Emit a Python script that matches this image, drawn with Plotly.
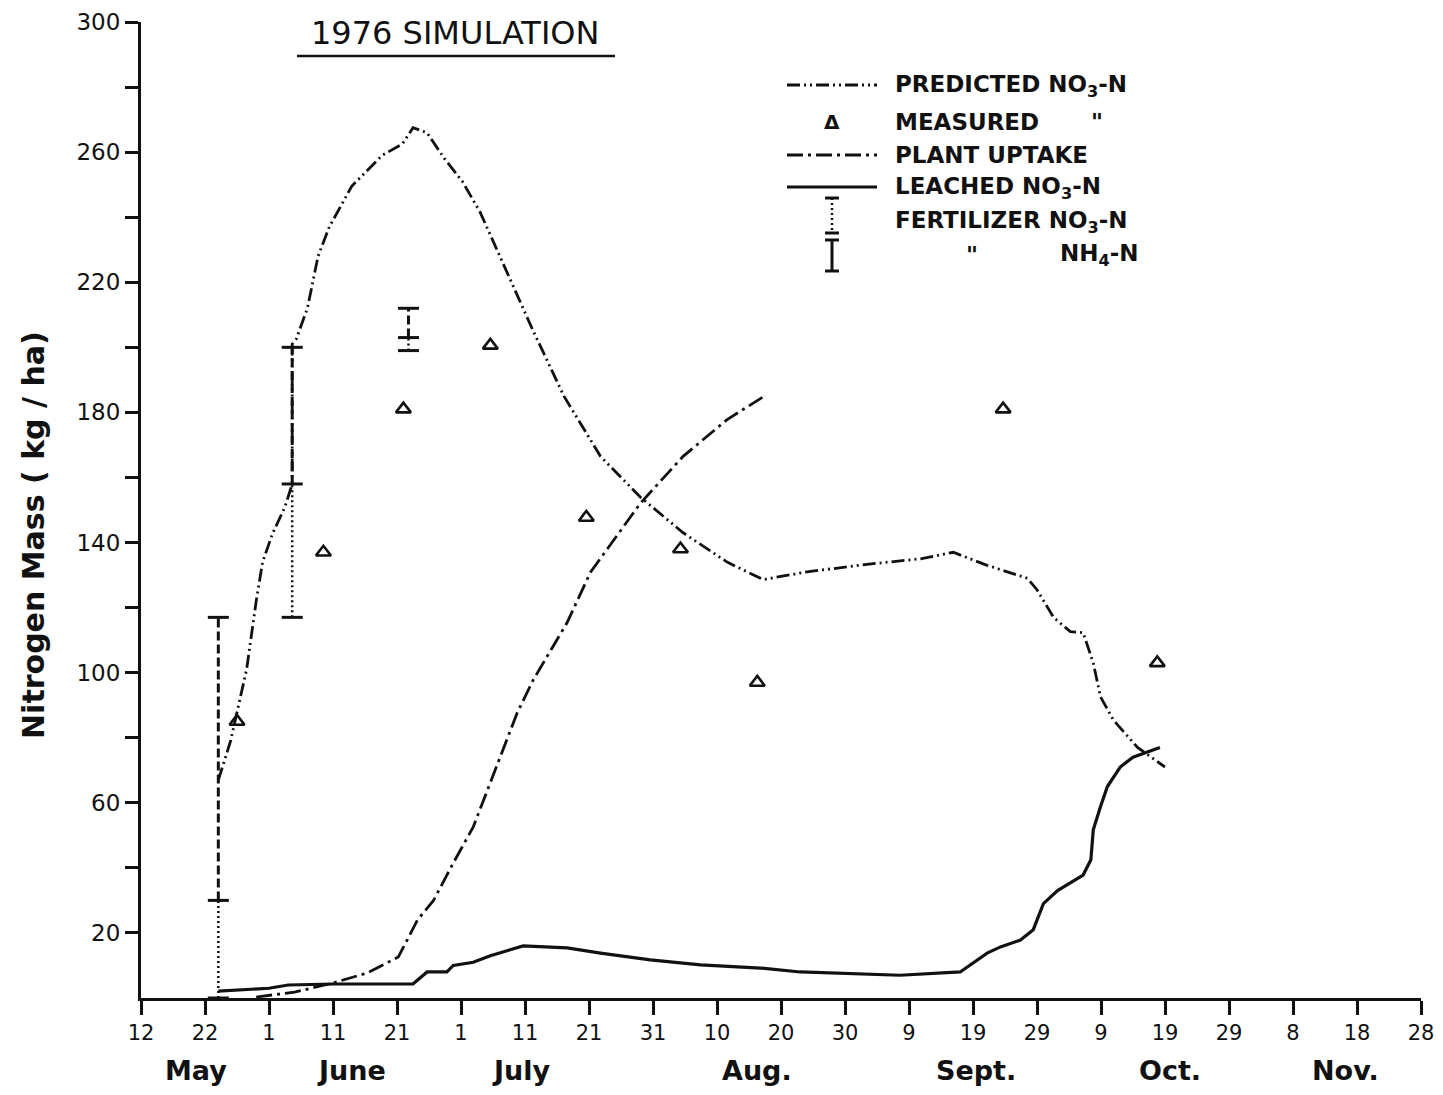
import plotly.graph_objects as go

# ---------------- data ----------------
pred_dates = ["1976-05-24 02:00", "1976-05-26", "1976-05-28 12:00", "1976-05-30", "1976-05-31",
              "1976-06-01 12:00", "1976-06-03 12:00", "1976-06-04 15:00", "1976-06-04 15:00",
              "1976-06-05 06:00", "1976-06-07", "1976-06-08 16:00", "1976-06-10 10:00",
              "1976-06-13 22:00", "1976-06-18 16:00", "1976-06-21 20:00", "1976-06-23 12:00",
              "1976-06-25 16:00", "1976-06-28 10:00", "1976-07-01 05:00", "1976-07-04",
              "1976-07-08 05:00", "1976-07-12 07:00", "1976-07-17 02:00", "1976-07-22 19:00",
              "1976-07-29", "1976-08-04 17:00", "1976-08-11 14:00", "1976-08-17 05:00",
              "1976-08-24 02:00", "1976-09-03 10:00", "1976-09-10 19:00", "1976-09-15 22:00",
              "1976-09-21 05:00", "1976-09-27 12:00", "1976-09-29", "1976-10-01 14:00",
              "1976-10-04 05:00", "1976-10-06 05:00", "1976-10-07 19:00", "1976-10-08 22:00",
              "1976-10-10 22:00", "1976-10-14 17:00", "1976-10-19"]
pred_vals = [67, 79, 101, 122, 134, 142.5, 151, 158, 201, 202.5,
             212, 228, 237, 249.5, 259, 262.5, 267.5, 266, 258, 251,
             241.5, 223, 205, 185, 166.5, 154, 143, 134, 128.6, 131,
             133.5, 135, 137, 133, 129, 125.5, 117, 112.6, 112.3, 103,
             92.6, 85.5, 77, 71]

uptake_dates = ["1976-05-30", "1976-06-05", "1976-06-11", "1976-06-16 08:00", "1976-06-21 05:00",
                "1976-06-24 05:00", "1976-06-26 17:00", "1976-06-29 19:00", "1976-07-02 22:00",
                "1976-07-05 14:00", "1976-07-09 19:00", "1976-07-12 07:00", "1976-07-17 14:00",
                "1976-07-21 05:00", "1976-07-29", "1976-08-04 17:00", "1976-08-11 14:00",
                "1976-08-17 02:00"]
uptake_vals = [0.3, 1.8, 4.6, 7.7, 12.6, 24, 30, 41.5, 52.6, 66, 87.7, 97.8, 115.4,
               130.8, 152, 166.5, 177.8, 184.6]

leach_dates = ["1976-05-24 02:00", "1976-06-01", "1976-06-04", "1976-06-11", "1976-06-23 12:00",
               "1976-06-25 17:00", "1976-06-28 19:00", "1976-06-29 19:00", "1976-07-02 22:00",
               "1976-07-05 14:00", "1976-07-10 17:00", "1976-07-17 14:00", "1976-07-22 19:00",
               "1976-07-30 14:00", "1976-08-07 10:00", "1976-08-16 19:00", "1976-08-23",
               "1976-09-07 14:00", "1976-09-17", "1976-09-21 05:00", "1976-09-23 07:00",
               "1976-09-26 10:00", "1976-09-28 10:00", "1976-09-30", "1976-10-02 05:00",
               "1976-10-06 05:00", "1976-10-07 10:00", "1976-10-07 19:00", "1976-10-08 22:00",
               "1976-10-10", "1976-10-12", "1976-10-14", "1976-10-18 05:00"]
leach_vals = [2.1, 3, 4, 4.3, 4.3, 8, 8, 10, 11, 13, 16, 15.4, 13.8, 11.7, 10.2,
              9.2, 8, 7, 8, 13.8, 15.7, 17.8, 21, 29, 33, 37.8, 42.5, 51.7, 58.8,
              65, 71, 74, 77]

meas_dates = ["1976-05-27", "1976-06-09 12:00", "1976-06-22", "1976-07-05 14:00",
              "1976-07-20 14:00", "1976-08-04 07:00", "1976-08-16 07:00",
              "1976-09-23 17:00", "1976-10-17 19:00"]
meas_vals = [85, 137, 181, 200.6, 147.7, 138, 97, 181, 103]

fert_dates = ["1976-05-24 02:00", "1976-06-04 15:00", "1976-06-22 19:00"]
fert_no3_low = [0, 117, 199]
fert_no3_high = [30, 158, 203]
fert_nh4_high = [117, 200, 212]

tick_dates = ["1976-05-12", "1976-05-22", "1976-06-01", "1976-06-11", "1976-06-21",
              "1976-07-01", "1976-07-11", "1976-07-21", "1976-07-31", "1976-08-10",
              "1976-08-20", "1976-08-30", "1976-09-09", "1976-09-19", "1976-09-29",
              "1976-10-09", "1976-10-19", "1976-10-29", "1976-11-08", "1976-11-18",
              "1976-11-28"]
tick_labels = ["12", "22", "1", "11", "21", "1", "11", "21", "31", "10", "20", "30",
               "9", "19", "29", "9", "19", "29", "8", "18", "28"]

month_names = ["May", "June", "July", "Aug.", "Sept.", "Oct.", "Nov."]
month_label_dates = ["1976-05-20 14:00", "1976-06-13 21:00", "1976-07-10 10:00",
                     "1976-08-16 07:00", "1976-09-19 10:00", "1976-10-19 19:00",
                     "1976-11-16 05:00"]

y_major = [20, 60, 100, 140, 180, 220, 260, 300]
y_minor = [40, 80, 120, 160, 200, 240, 280]

# ---------------- layout helpers ----------------
# the html page body has an 8px margin; screen coordinates below are for the 1443x1095 window
OFF = 8
W, H = 1443 - 2 * OFF, 1095 - 2 * OFF
SL, SR, ST, SB = 141, 1421, 22, 998          # plot area on screen
ML, MT = SL - OFF, ST - OFF
MR = W - (SR - OFF)
MB = H - (SB - OFF)
PW = SR - SL
PH = SB - ST


def px(x):
    return (x - SL) / PW


def py(y):
    return (SB - y) / PH


FONT = "DejaVu Sans"
INK = "#111111"
PRED_DASH = "13px,4px,2px,4px,2px,4px"
UPT_DASH = "16px,5px,3px,5px"

fig = go.Figure()

fig.add_trace(go.Scatter(x=pred_dates, y=pred_vals, mode="lines",
                         line=dict(color=INK, width=2.8, dash=PRED_DASH),
                         name="Predicted NO3-N"))
fig.add_trace(go.Scatter(x=uptake_dates, y=uptake_vals, mode="lines",
                         line=dict(color=INK, width=2.8, dash=UPT_DASH),
                         name="Plant uptake"))
fig.add_trace(go.Scatter(x=leach_dates, y=leach_vals, mode="lines",
                         line=dict(color=INK, width=3.2),
                         name="Leached NO3-N"))
fig.add_trace(go.Scatter(x=meas_dates, y=meas_vals, mode="markers",
                         marker=dict(symbol="triangle-up-open", size=13,
                                     color=INK, line=dict(width=2.6, color=INK)),
                         name="Measured"))

for d, lo, mid, hi in zip(fert_dates, fert_no3_low, fert_no3_high, fert_nh4_high):
    fig.add_trace(go.Scatter(x=[d, d], y=[lo, mid], mode="lines",
                             line=dict(color=INK, width=2.5, dash="2px,3px")))
    fig.add_trace(go.Scatter(x=[d, d], y=[mid, hi], mode="lines",
                             line=dict(color=INK, width=3, dash="9px,4px")))
    fig.add_trace(go.Scatter(x=[d, d, d], y=[lo, mid, hi], mode="markers",
                             marker=dict(symbol="line-ew-open", size=15, color=INK,
                                         line=dict(width=3, color=INK))))

annotations = []
for name, d in zip(month_names, month_label_dates):
    annotations.append(dict(x=d, xref="x", y=py(1070), yref="paper", text=name,
                            showarrow=False, xanchor="center", yanchor="middle",
                            font=dict(family=FONT, size=27, color=INK, weight="bold")))

# title
annotations.append(dict(x=px(455), y=py(33), xref="paper", yref="paper",
                        text="1976 SIMULATION", showarrow=False,
                        xanchor="center", yanchor="middle",
                        font=dict(family=FONT, size=32, color=INK)))

# y-axis title
annotations.append(dict(x=px(33), y=py(535), xref="paper", yref="paper",
                        text="Nitrogen Mass ( kg / ha)", textangle=-90, showarrow=False,
                        xanchor="center", yanchor="middle",
                        font=dict(family=FONT, size=30, color=INK, weight="bold")))

# legend texts
leg_font = dict(family=FONT, size=23, color=INK, weight="bold")
leg_items = [
    (893, 86, "PREDICTED NO<sub>3</sub>-N", "left"),
    (893, 122, "MEASURED", "left"),
    (1097, 122, "\"", "center"),
    (893, 155, "PLANT UPTAKE", "left"),
    (893, 188, "LEACHED NO<sub>3</sub>-N", "left"),
    (893, 222, "FERTILIZER NO<sub>3</sub>-N", "left"),
    (972, 255, "\"", "center"),
    (1058, 255, "NH<sub>4</sub>-N", "left"),
]
for x, y, t, anc in leg_items:
    annotations.append(dict(x=px(x), y=py(y), xref="paper", yref="paper", text=t,
                            showarrow=False, xanchor=anc, yanchor="middle", font=leg_font))
annotations.append(dict(x=px(832), y=py(122), xref="paper", yref="paper", text="Δ",
                        showarrow=False, xanchor="center", yanchor="middle",
                        font=dict(family=FONT, size=20, color=INK, weight="bold")))

shapes = []
# title underline
shapes.append(dict(type="line", xref="paper", yref="paper", x0=px(297), x1=px(615),
                   y0=py(56), y1=py(56), line=dict(color=INK, width=2.5)))
# legend line samples
for y, dash, wdt in [(85, PRED_DASH, 2.8), (155, UPT_DASH, 2.8), (187, "solid", 3)]:
    shapes.append(dict(type="line", xref="paper", yref="paper", x0=px(787), x1=px(877),
                       y0=py(y), y1=py(y), line=dict(color=INK, width=wdt, dash=dash)))
# legend fertilizer glyphs
shapes.append(dict(type="line", xref="paper", yref="paper", x0=px(832), x1=px(832),
                   y0=py(198), y1=py(233), line=dict(color=INK, width=2.5, dash="2px,3px")))
shapes.append(dict(type="line", xref="paper", yref="paper", x0=px(832), x1=px(832),
                   y0=py(240), y1=py(271), line=dict(color=INK, width=3)))
for y in [198, 233, 240, 271]:
    shapes.append(dict(type="line", xref="paper", yref="paper", x0=px(825), x1=px(839),
                       y0=py(y), y1=py(y), line=dict(color=INK, width=3)))

fig.update_layout(
    width=W, height=H,
    margin=dict(l=ML, r=MR, t=MT, b=MB, autoexpand=False),
    paper_bgcolor="white", plot_bgcolor="white",
    showlegend=False,
    annotations=annotations,
    shapes=shapes,
    xaxis=dict(type="date", range=["1976-05-12", "1976-11-28"],
               tickmode="array", tickvals=tick_dates, ticktext=tick_labels,
               ticks="outside", ticklen=14, tickwidth=2.5, tickcolor=INK,
               showline=True, linewidth=3, linecolor=INK,
               showgrid=False, zeroline=False,
               tickfont=dict(family=FONT, size=21, color=INK)),
    yaxis=dict(range=[0, 300], tickmode="array", tickvals=y_major,
               ticks="outside", ticklen=13, tickwidth=2.5, tickcolor=INK,
               minor=dict(tickmode="array", tickvals=y_minor, ticks="outside",
                          ticklen=13, tickwidth=2.5, tickcolor=INK, showgrid=False),
               showline=True, linewidth=3, linecolor=INK,
               showgrid=False, zeroline=False,
               tickfont=dict(family=FONT, size=23, color=INK)),
)

fig.write_html("out.html")
